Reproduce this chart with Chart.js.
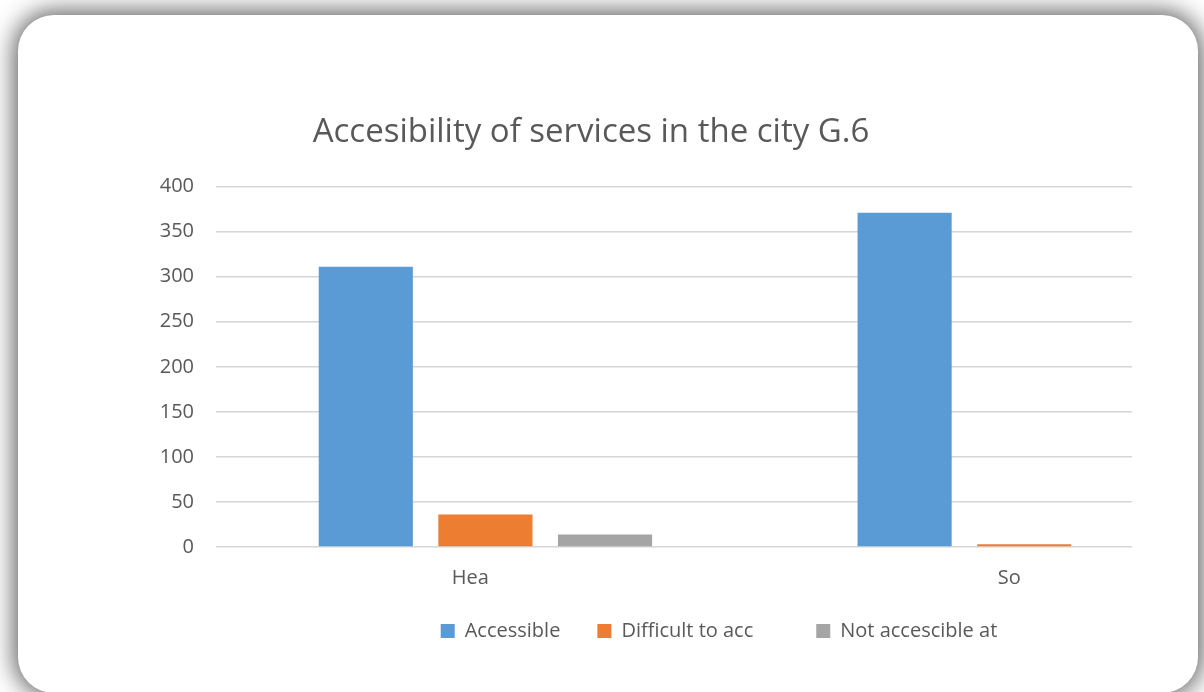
<!DOCTYPE html>
<html lang="en">
<head>
  <meta charset="UTF-8" />
  <title>Accesibility of services in the city G.6</title>
  <script src="https://cdn.jsdelivr.net/npm/chart.js"></script>
  <style>
    body {
      margin: 0;
      background: #ffffff;
      overflow: hidden;
      font-family: 'Open Sans', sans-serif;
    }

    .card {
      position: absolute;
      left: 18px;
      top: 15px;
      width: 1180px;
      height: 678px;
      background: #ffffff;
      border-radius: 36px;
      box-shadow: 0 0 24px 4px rgba(0, 0, 0, 0.63);
    }

    .chart-box {
      position: absolute;
      left: 0;
      top: 0;
      width: 1182px;
      height: 692px;
    }
  </style>
</head>
<body>
  <div class="card"></div>
  <div class="chart-box">
    <canvas id="servicesChart"></canvas>
  </div>

  <script>
    const categories = ['Hea', 'So'];
    const seriesNames = ['Accessible', 'Difficult to acc', 'Not accescible at'];
    const accessible = [311, 371];
    const difficult = [36, 3];
    const notAccessible = [14, 0];
    const yMax = 400;
    const yStep = 50;

    const colors = ['#5b9bd5', '#ed7d31', '#a5a5a5'];
    const seriesValues = [accessible, difficult, notAccessible];

    Chart.defaults.font.family = "'Open Sans', sans-serif";
    Chart.defaults.color = '#595959';

    // category i sits at x = i + 0.5 on a linear axis, so the groups can run past the grid like the original
    const datasets = seriesNames.map((name, s) => ({
      label: name,
      data: seriesValues[s].map((v, i) => ({ x: i + 0.5, y: v })),
      backgroundColor: colors[s],
      borderWidth: 0,
      categoryPercentage: 0.666,
      barPercentage: 0.787
    }));

    const legendShift = {
      id: 'legendShift',
      afterLayout(chart) {
        chart.legend.left += 128;
        chart.legend.right += 128;
      }
    };

    new Chart(document.getElementById('servicesChart'), {
      type: 'bar',
      data: { datasets: datasets },
      plugins: [legendShift],
      options: {
        responsive: true,
        maintainAspectRatio: false,
        animation: false,
        layout: {
          padding: { left: 50, right: 50, top: 113, bottom: 41 }
        },
        scales: {
          x: {
            type: 'linear',
            min: 0,
            max: 1.7,
            offset: false,
            grid: { display: false, drawTicks: false },
            border: { display: false },
            afterBuildTicks: scale => {
              scale.ticks = categories.map((c, i) => ({ value: i + 0.5 }));
            },
            afterFit: scale => { scale.height = 37; },
            ticks: {
              padding: 19,
              labelOffset: -15,
              autoSkip: false,
              maxRotation: 0,
              font: { size: 20 },
              color: '#595959',
              callback: (value, index) => categories[index]
            }
          },
          y: {
            min: 0,
            max: yMax,
            afterFit: scale => { scale.width = 166; },
            grid: {
              color: '#d6d6d6',
              lineWidth: 1.5,
              drawTicks: false
            },
            border: { display: false },
            ticks: {
              stepSize: yStep,
              padding: 22,
              font: { size: 20 },
              color: '#595959'
            }
          }
        },
        plugins: {
          title: {
            display: true,
            text: 'Accesibility of services in the city G.6',
            color: '#595959',
            font: { size: 33, weight: 'normal' },
            padding: { top: 0, bottom: 34 }
          },
          legend: {
            position: 'bottom',
            labels: {
              boxWidth: 14,
              boxHeight: 14,
              padding: 37,
              color: '#595959',
              font: { size: 20 },
              generateLabels: chart => {
                const items = Chart.defaults.plugins.legend.labels.generateLabels(chart);
                items[1].text += '\u00a0'.repeat(5);
                return items;
              }
            }
          },
          tooltip: { enabled: false }
        }
      }
    });
  </script>
</body>
</html>
